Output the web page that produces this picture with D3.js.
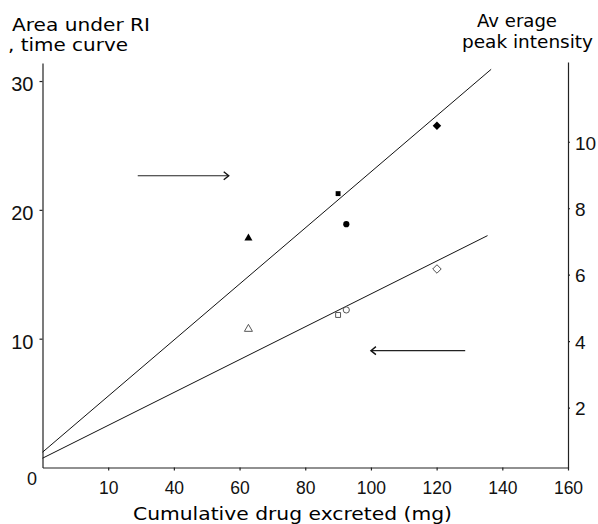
<!DOCTYPE html>
<html lang="en">
<head>
  <meta charset="UTF-8" />
  <title>Area under RI time curve and peak intensity vs cumulative drug excreted</title>
  <script src="https://d3js.org/d3.v7.min.js"></script>
  <style>
    body { margin: 0; background: #fff; }
    svg { display: block; font-family: "DejaVu Sans", sans-serif; }
    .axis path, .axis line { stroke: #222; stroke-width: 1.2; }
    .axis text { fill: #111; }
  </style>
</head>
<body>
  <div id="chart"></div>
  <script>
    // dados
    const drugExcreted = [62.7, 90, 92.5, 120.1];
    const peakIntensity = [7.10, 8.44, 7.52, 10.48];   // simbolos cheios, eixo direito
    const areaUnderCurve = [10.75, 11.84, 12.23, 15.41]; // simbolos vazios, eixo esquerdo
    const symbolNames = ["triangle", "square", "circle", "diamond"];

    // retas ajustadas (extremos)
    const peakFitX = [0, 136.6];
    const peakFitY = [0.66, 12.18];
    const areaFitX = [0, 135.5];
    const areaFitY = [0.72, 18.0];

    // setas: de/para em mg, altura em unidades do eixo esquerdo
    const arrowFrom = [29, 128.7];
    const arrowTo = [56.7, 100];
    const arrowY = [22.65, 9.07];

    const xTicks = [20, 40, 60, 80, 100, 120, 140, 160];
    const xTickLabels = ["10", "40", "60", "80", "100", "120", "140", "160"];
    const leftTicks = [10, 20, 30];
    const rightTicks = [2, 4, 6, 8, 10];

    const width = 598, height = 524;

    const svg = d3.select("#chart").append("svg")
      .attr("width", width)
      .attr("height", height);

    const x = d3.scaleLinear().domain([0, 160]).range([42.5, 568]);
    const yL = d3.scaleLinear().domain([0, 31.4]).range([467.5, 63]);
    const yR = d3.scaleLinear().domain([0.2, 12.4]).range([467.5, 62]);

    // eixo x
    const xAxis = svg.append("g")
      .attr("class", "axis")
      .attr("transform", `translate(0, ${yL(0)})`)
      .call(d3.axisBottom(x)
        .tickValues(xTicks)
        .tickFormat((d, i) => xTickLabels[i])
        .tickSize(3)
        .tickSizeOuter(0));
    xAxis.selectAll("text")
      .attr("y", 14)
      .style("font-size", "17.5px");
    xAxis.append("text")
      .attr("x", 32)
      .attr("y", 17.5)
      .attr("text-anchor", "middle")
      .style("font-size", "18px")
      .text("0");

    // eixo esquerdo
    const leftAxis = svg.append("g")
      .attr("class", "axis")
      .attr("transform", `translate(${x(0)}, 0)`)
      .call(d3.axisLeft(yL).tickValues(leftTicks).tickSize(3).tickSizeOuter(0));
    leftAxis.selectAll("text")
      .attr("x", -9)
      .attr("dy", "0.48em")
      .style("font-size", "20px");

    // eixo direito
    const rightAxis = svg.append("g")
      .attr("class", "axis")
      .attr("transform", `translate(${x(160)}, 0)`)
      .call(d3.axisRight(yR).tickValues(rightTicks).tickSize(2).tickSizeOuter(0));
    rightAxis.selectAll("text")
      .attr("x", 7)
      .attr("dy", "0.38em")
      .style("font-size", "19px");

    // titulos
    svg.append("text").attr("x", 12).attr("y", 31)
      .attr("textLength", 138).attr("lengthAdjust", "spacingAndGlyphs")
      .style("font-size", "17px").text("Area under RI");
    svg.append("text").attr("x", 8).attr("y", 51)
      .attr("textLength", 120).attr("lengthAdjust", "spacingAndGlyphs")
      .style("font-size", "17px").text(", time curve");
    svg.append("text").attr("x", 477).attr("y", 27)
      .attr("textLength", 80).attr("lengthAdjust", "spacingAndGlyphs")
      .style("font-size", "17px").text("Av erage");
    svg.append("text").attr("x", 462).attr("y", 47.5)
      .attr("textLength", 131).attr("lengthAdjust", "spacingAndGlyphs")
      .style("font-size", "17px").text("peak intensity");
    svg.append("text").attr("x", 133).attr("y", 520)
      .attr("textLength", 319).attr("lengthAdjust", "spacingAndGlyphs")
      .style("font-size", "18px").text("Cumulative  drug  excreted  (mg)");

    // retas
    const fitLines = [
      { xs: peakFitX, ys: peakFitY, y: yR },
      { xs: areaFitX, ys: areaFitY, y: yL }
    ];
    svg.selectAll("line.fit")
      .data(fitLines)
      .join("line")
      .attr("class", "fit")
      .attr("x1", d => x(d.xs[0]))
      .attr("y1", d => d.y(d.ys[0]))
      .attr("x2", d => x(d.xs[1]))
      .attr("y2", d => d.y(d.ys[1]))
      .attr("stroke", "#111")
      .attr("stroke-width", 1);

    // setas
    const arrows = arrowFrom.map((f, i) => ({ from: f, to: arrowTo[i], y: arrowY[i] }));
    svg.selectAll("g.arrow")
      .data(arrows)
      .join("g")
      .attr("class", "arrow")
      .each(function (d) {
        const g = d3.select(this);
        const x1 = x(d.from), x2 = x(d.to), yy = yL(d.y);
        const dir = x2 > x1 ? 1 : -1;
        g.append("line")
          .attr("x1", x1).attr("y1", yy)
          .attr("x2", x2).attr("y2", yy)
          .attr("stroke", "#222").attr("stroke-width", 1.1);
        g.append("path")
          .attr("d", `M${x2 - dir * 5},${yy - 4}L${x2},${yy}L${x2 - dir * 5},${yy + 4}`)
          .attr("fill", "none").attr("stroke", "#111").attr("stroke-width", 1.4);
      });

    // simbolos
    const symbolType = {
      triangle: d3.symbolTriangle,
      square: d3.symbolSquare,
      circle: d3.symbolCircle,
      diamond: d3.symbolSquare
    };
    const symbolSize = { triangle: 28, square: 24, circle: 30, diamond: 36 };

    const filled = drugExcreted.map((v, i) => ({ x: v, y: peakIntensity[i], s: symbolNames[i] }));
    const open = drugExcreted.map((v, i) => ({ x: v, y: areaUnderCurve[i], s: symbolNames[i] }));

    function rot(d) { return d.s === "diamond" ? " rotate(45)" : ""; }

    svg.selectAll("path.filled")
      .data(filled)
      .join("path")
      .attr("class", "filled")
      .attr("transform", d => `translate(${x(d.x)}, ${yR(d.y)})${rot(d)}`)
      .attr("d", d => d3.symbol(symbolType[d.s], symbolSize[d.s])())
      .attr("fill", "#000");

    svg.selectAll("path.open")
      .data(open)
      .join("path")
      .attr("class", "open")
      .attr("transform", d => `translate(${x(d.x)}, ${yL(d.y)})${rot(d)}`)
      .attr("d", d => d3.symbol(symbolType[d.s], symbolSize[d.s])())
      .attr("fill", "#fff")
      .attr("stroke", "#444")
      .attr("stroke-width", 0.9);
  </script>
</body>
</html>
